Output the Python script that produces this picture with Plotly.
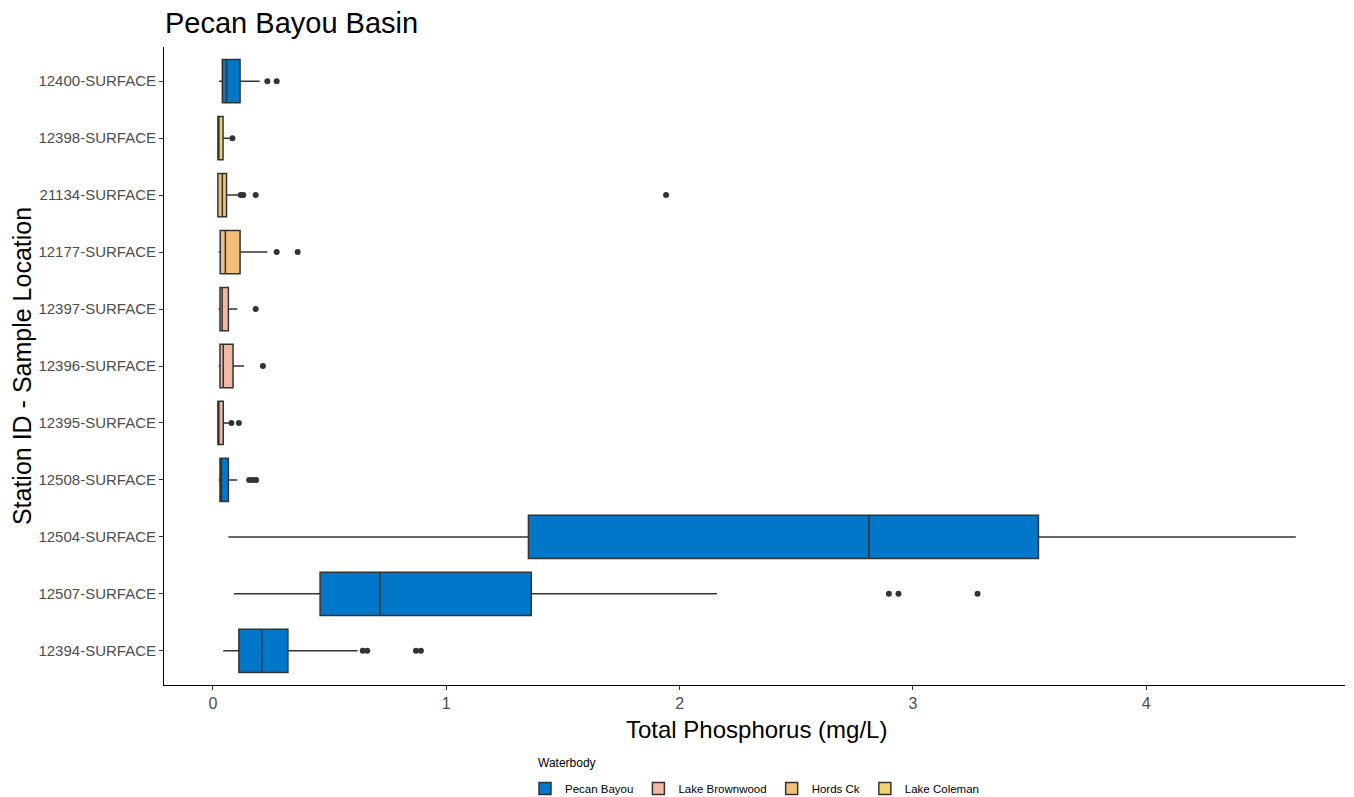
import plotly.graph_objects as go

# Stations from top to bottom
stations = ["12400-SURFACE", "12398-SURFACE", "21134-SURFACE", "12177-SURFACE",
            "12397-SURFACE", "12396-SURFACE", "12395-SURFACE", "12508-SURFACE",
            "12504-SURFACE", "12507-SURFACE", "12394-SURFACE"]
waterbody = ["Pecan Bayou", "Lake Coleman", "Hords Ck", "Hords Ck",
             "Lake Brownwood", "Lake Brownwood", "Lake Brownwood", "Pecan Bayou",
             "Pecan Bayou", "Pecan Bayou", "Pecan Bayou"]
lower_whisker = [0.026, 0.020, 0.020, 0.024, 0.024, 0.024, 0.020, 0.024, 0.066, 0.090, 0.044]
q1 =            [0.040, 0.021, 0.021, 0.031, 0.030, 0.030, 0.021, 0.030, 1.352, 0.459, 0.111]
median =        [0.058, 0.025, 0.040, 0.053, 0.039, 0.044, 0.024, 0.036, 2.811, 0.716, 0.209]
q3 =            [0.116, 0.043, 0.058, 0.116, 0.066, 0.086, 0.044, 0.066, 3.538, 1.364, 0.321]
upper_whisker = [0.200, 0.070, 0.110, 0.233, 0.104, 0.133, 0.079, 0.104, 4.641, 2.160, 0.620]
outliers = [
    [0.233, 0.273],
    [0.083],
    [0.119, 0.130, 0.183, 1.942],
    [0.273, 0.363],
    [0.183],
    [0.214],
    [0.079, 0.111],
    [0.155, 0.170, 0.185],
    [],
    [2.897, 2.938, 3.277],
    [0.642, 0.661, 0.870, 0.891],
]
legend_order = ["Pecan Bayou", "Lake Brownwood", "Hords Ck", "Lake Coleman"]
colors = {"Pecan Bayou": "#0077C8", "Lake Brownwood": "#F0B9A6",
          "Hords Ck": "#F0C07A", "Lake Coleman": "#F2D46E"}

W, H = 1354, 797
OFF = 8  # page body offset
L, T, R, B = 164 - OFF, 47 - OFF, 9 + OFF, 112 + OFF
PW, PH = W - L - R, H - T - B  # plot area size


def px_x(px):  # screen x -> paper x
    return (px - OFF - L) / PW


def px_y(py):  # screen y -> paper y
    return (H - B - (py - OFF)) / PH


fig = go.Figure()

shown = set()
order_idx = sorted(range(len(stations)), key=lambda i: legend_order.index(waterbody[i]))
for i in order_idx:
    wb = waterbody[i]
    fig.add_trace(go.Box(
        y=[stations[i]], q1=[q1[i]], median=[median[i]], q3=[q3[i]],
        lowerfence=[lower_whisker[i]], upperfence=[upper_whisker[i]],
        orientation="h", name=wb, legendgroup=wb, showlegend=wb not in shown,
        fillcolor=colors[wb], line=dict(color="#333333", width=1.5),
        width=0.76, whiskerwidth=0, boxpoints=False, hoverinfo="x",
    ))
    shown.add(wb)

ox, oy = [], []
for s, pts in zip(stations, outliers):
    for p in pts:
        ox.append(p)
        oy.append(s)
fig.add_trace(go.Scatter(x=ox, y=oy, mode="markers", showlegend=False,
                         marker=dict(color="#333333", size=6)))

fig.add_annotation(text="Waterbody", xref="paper", yref="paper",
                   x=px_x(536), y=px_y(763), xanchor="left", yanchor="middle",
                   showarrow=False, font=dict(size=12, color="#000000"))
fig.add_annotation(text="Total Phosphorus (mg/L)", xref="paper", yref="paper",
                   x=px_x(756), y=px_y(729), xanchor="center", yanchor="middle",
                   showarrow=False, font=dict(size=24, color="#000000"))

fig.update_layout(
    width=W, height=H,
    paper_bgcolor="white", plot_bgcolor="white",
    margin=dict(l=L, r=R, t=T, b=B, autoexpand=False),
    boxmode="overlay",
    font=dict(family="Liberation Sans, Arial, sans-serif", color="#000000"),
    title=dict(text="Pecan Bayou Basin", x=(165 - OFF) / W, xanchor="left",
               y=1 - (23 - OFF) / H, yanchor="middle",
               font=dict(size=29, color="#000000")),
    xaxis=dict(range=[-0.21, 4.852], tickvals=[0, 1, 2, 3, 4], automargin=False,
               showgrid=False, zeroline=False, showline=True, linecolor="#000000",
               linewidth=1, ticks="outside", ticklen=4, tickcolor="#333333",
               tickfont=dict(size=16, color="#4d4d4d")),
    yaxis=dict(type="category", categoryorder="array", categoryarray=stations[::-1],
               range=[-0.6, 10.6], showgrid=False, zeroline=False, showline=True,
               automargin=False,
               linecolor="#000000", linewidth=1, ticks="outside", ticklen=4,
               tickcolor="#333333", tickfont=dict(size=15, color="#4d4d4d"),
               title=dict(text="Station ID - Sample Location", font=dict(size=25), standoff=6)),
    legend=dict(orientation="h", x=px_x(525), xanchor="left",
                y=px_y(774), yanchor="top",
                font=dict(size=11.5, color="#000000"), traceorder="normal",
                itemwidth=30),
)

fig.write_html("out.html")
